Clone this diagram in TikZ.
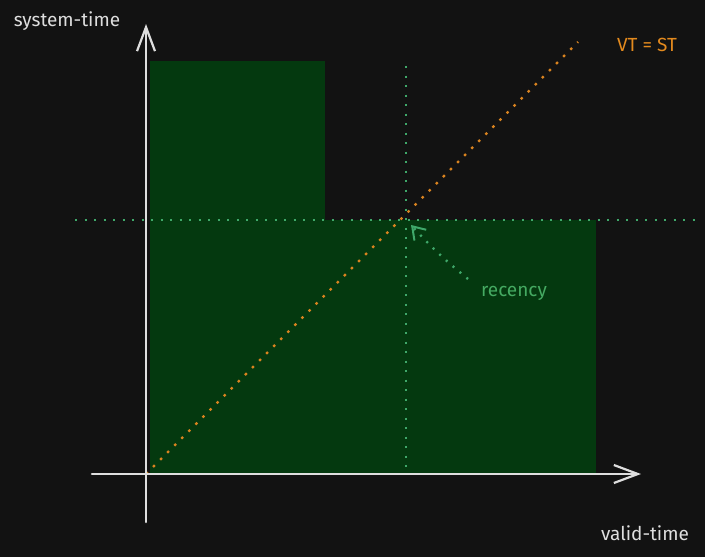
\documentclass[tikz,border=0pt]{standalone}
\usepackage{fontspec}
\setmainfont{Fira Sans}
\usetikzlibrary{arrows.meta}

\definecolor{canvas}{HTML}{121212}
\definecolor{axisgrey}{HTML}{DEDEDE}
\definecolor{regiongreen}{HTML}{04390F}
\definecolor{guidegreen}{HTML}{3FA86A}
\definecolor{diagorange}{HTML}{D9831F}
\definecolor{labelorange}{HTML}{E38A1E}
\definecolor{labelgreen}{HTML}{45AA62}

\begin{document}
\begin{tikzpicture} [x=1pt,y=-1pt,
		axis/.style={draw=axisgrey,line width=2.6pt,line cap=round,-{Straight Barb[length=24pt,width=18pt,line width=2.2pt]}},
		region/.style={fill=regiongreen},
		guide/.style={draw=guidegreen,line width=2.4pt,dash pattern=on 2pt off 7.5pt},
		diagonal/.style={draw=diagorange,line width=2.4pt,dash pattern=on 2.5pt off 7.5pt},
		pointer/.style={draw=guidegreen,line width=2.4pt,dash pattern=on 2pt off 7pt,-{Straight Barb[length=12pt,width=16pt,line width=2pt]}},
		axislabel/.style={text=axisgrey,font=\fontsize{19}{22}\selectfont,inner sep=0pt},
		note/.style={font=\fontsize{19}{22}\selectfont,inner sep=0pt}]
			% background and frame
			\fill[canvas] (0,0) rectangle (705,557);
			% axes end points
			\coordinate (origin) at (146,474);
			\coordinate (ytop) at (146,24);
			\coordinate (ybottom) at (146,522);
			\coordinate (xleft) at (92,474);
			\coordinate (xright) at (641,474);
			% now = intersection of the two guides
			\coordinate (now) at (406,220);
			% regions
			\fill[region] (150,61) rectangle (325,220);
			\fill[region] (150,220) rectangle (596,474);
			% guides
			\coordinate (hleft) at (75,220);
			\coordinate (hright) at (698,220);
			\coordinate (vtop) at (406,66);
			\coordinate (vbottom) at (406,470);
			\draw[guide] (hleft) -- (hright);
			\draw[guide] (vtop) -- (vbottom);
			% VT = ST line
			\coordinate (diagend) at (578,42);
			\draw[diagonal] (origin) -- (diagend);
			% axes
			\draw[axis] (ybottom) -- (ytop);
			\draw[axis] (xleft) -- (xright);
			% labels
			\node[axislabel] (systime) at (67,21) {system-time};
			\node[axislabel] (validtime) at (645,533) {valid-time};
			\node[note,text=labelorange] (vtst) at (647,45) {VT = ST};
			\node[note,text=labelgreen] (recency) at (514,293) {recency};
			\coordinate (recencytail) at (468,279);
			\draw[pointer] (recencytail) to[bend left=4] ([shift={(5,5)}]now);
		\end{tikzpicture}
\end{document}
